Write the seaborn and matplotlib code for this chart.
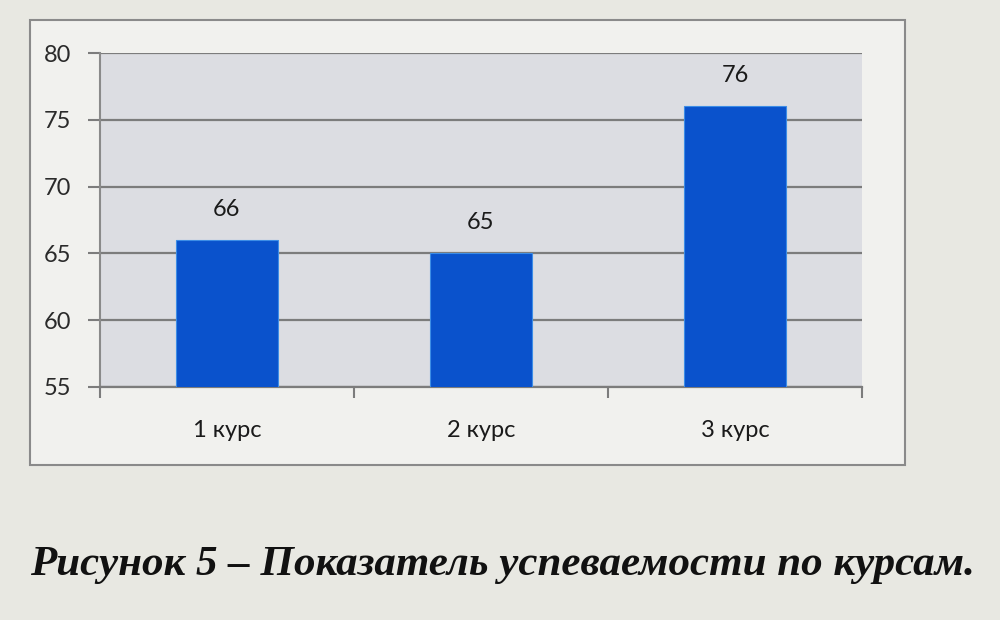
import seaborn as sns
import pandas as pd
import matplotlib.pyplot as plt
from matplotlib.patches import Rectangle

courses = ['1 курс', '2 курс', '3 курс']
scores = [66, 65, 76]
y_ticks = [55, 60, 65, 70, 75, 80]
caption = 'Рисунок 5 – Показатель успеваемости по курсам.'

df = pd.DataFrame({'course': courses, 'score': scores})

sns.set_style("white")
plt.rcParams['font.family'] = ['Lato', 'DejaVu Sans']

fig = plt.figure(figsize=(10, 6.2), dpi=100)
fig.patch.set_facecolor('#e8e8e2')

# outer chart frame
fig.patches.append(Rectangle((0.03, 0.25), 0.875, 0.718, transform=fig.transFigure,
                             facecolor='#f1f1ee', edgecolor='#8a8a8a', linewidth=1.5, zorder=0))

ax = fig.add_axes([0.10, 0.376, 0.762, 0.5385])
ax.set_zorder(2)
ax.set_facecolor('#dcdde2')
sns.barplot(data=df, x='course', y='score', color='#0a52cc', width=0.4,
            saturation=1, edgecolor='#3d8de6', linewidth=0.8, ax=ax, zorder=3)

ax.set_ylim(55, 80)
ax.set_xlim(-0.5, 2.5)
ax.set_yticks(y_ticks)
ax.yaxis.grid(True, color='#7c7c7c', linewidth=1.6, zorder=0)
ax.set_axisbelow(True)

for i, v in enumerate(scores):
    ax.text(i, v + 1.5, str(v), ha='center', va='bottom', fontsize=17, color='#1a1a1a')

for side in ['top', 'right']:
    ax.spines[side].set_visible(False)
ax.spines['left'].set_color('#8a8a8a')
ax.spines['bottom'].set_color('#7c7c7c')
ax.spines['left'].set_linewidth(1.5)
ax.spines['bottom'].set_linewidth(1.6)

ax.tick_params(axis='y', length=9, color='#7c7c7c', width=1.5, labelsize=17,
               labelcolor='#2a2a2a', pad=12, left=True)
ax.set_xticks([0, 1, 2])
ax.set_xticklabels(courses)
ax.set_xticks([-0.5, 0.5, 1.5, 2.5], minor=True)
ax.tick_params(axis='x', which='major', length=0, labelsize=17, labelcolor='#1a1a1a', pad=24)
ax.tick_params(axis='x', which='minor', length=8, color='#7c7c7c', width=1.5, bottom=True)
ax.set_xlabel('')
ax.set_ylabel('')

fig.text(0.03, 0.089, caption, ha='left', va='center', fontsize=31,
         family=['Liberation Serif', 'DejaVu Serif'], fontweight='bold', fontstyle='italic',
         color='#111111')

fig.savefig('out.png', dpi=100, facecolor=fig.get_facecolor())
